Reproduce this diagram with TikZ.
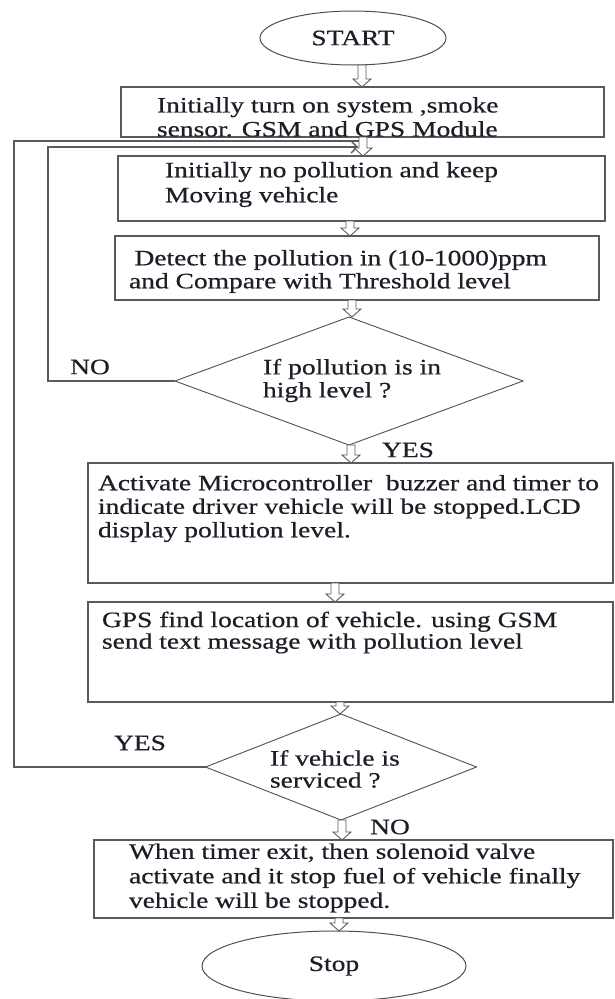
\documentclass[tikz,border=0pt]{standalone}
\usepackage{fontspec}
\setmainfont{Liberation Serif}[FakeStretch=1.25,FakeBold=0.6]
\usetikzlibrary{shapes.geometric,arrows.meta,calc}
\definecolor{linegray}{RGB}{90,90,90}
\definecolor{diagray}{RGB}{80,80,80}
\definecolor{txtcol}{RGB}{30,30,40}
\tikzset{
  boxnode/.style={draw=linegray,line width=1.4pt,rectangle,inner sep=0pt,outer sep=0pt},
  ovalnode/.style={draw=diagray,line width=1pt,ellipse,inner sep=0pt,outer sep=0pt,text=txtcol,font=\fontsize{22}{24}\selectfont},
  decnode/.style={draw=diagray,line width=0.9pt,diamond,inner sep=0pt,outer sep=0pt},
  txt/.style={anchor=west,align=left,inner sep=0pt,outer sep=0pt,text=txtcol},
  lbl/.style={inner sep=0pt,text=txtcol,font=\fontsize{22}{24}\selectfont},
  hollowarrow/.style={draw=linegray,line width=0.9pt,fill=white,line join=miter},
  loopline/.style={draw=linegray,line width=1.4pt},
}
\newcommand\hollowarr[3]{\draw[hollowarrow] let \p1=(#2), \p2=(#3) in
  (#1pt-4pt,\y1) -- (#1pt+4pt,\y1) -- (#1pt+4pt,\y2+8pt) -- (#1pt+9pt,\y2+8pt)
  -- (#1pt,\y2) -- (#1pt-9pt,\y2+8pt) -- (#1pt-4pt,\y2+8pt) -- cycle;}
\begin{document}
\begin{tikzpicture}[x=1pt,y=-1pt]
\useasboundingbox (0,0) rectangle (614,999);
% shapes
\node[ovalnode,minimum width=186pt,minimum height=54pt] (start) at (353,38) {START};
\node[boxnode,minimum width=483pt,minimum height=50pt] (box1) at (362.5,112) {};
\node[boxnode,minimum width=487pt,minimum height=65pt] (box2) at (361.5,188.5) {};
\node[boxnode,minimum width=484pt,minimum height=64pt] (box3) at (357,268) {};
\node[decnode,minimum width=348pt,minimum height=128pt] (d1) at (349,381) {};
\node[boxnode,minimum width=525pt,minimum height=120pt] (box4) at (350.5,523) {};
\node[boxnode,minimum width=525pt,minimum height=100pt] (box5) at (350.5,652) {};
\node[decnode,minimum width=271pt,minimum height=106pt] (d2) at (341,767) {};
\node[boxnode,minimum width=519pt,minimum height=78pt] (box6) at (353.5,879) {};
\node[ovalnode,minimum width=264pt,minimum height=70pt] (stop) at (334,966) {Stop};
% texts
\node[txt,font=\fontsize{22}{24}\selectfont] (t1) at (157,117) {Initially turn on system ,smoke\\sensor. GSM and GPS Module};
\node[txt,font=\fontsize{22}{25}\selectfont] (t2) at (165,184.5) {Initially no pollution and keep\\Moving vehicle};
\node[txt,font=\fontsize{22}{23}\selectfont] (t3) at (129,271.5) {\hspace*{0.25em}Detect the pollution in (10-1000)ppm\\and Compare with Threshold level};
\node[txt,font=\fontsize{22}{23}\selectfont] (dt1) at (263,380.5) {If pollution is in\\high level ?};
\node[txt,font=\fontsize{22}{23.5}\selectfont] (t4) at (98,508.5) {Activate Microcontroller\ \ buzzer and timer to\\indicate driver vehicle will be stopped.LCD\\display pollution level.};
\node[txt,font=\fontsize{22}{21.6}\selectfont] (t5) at (102,632.5) {GPS find location of vehicle. using GSM\\send text message with pollution level};
\node[txt,font=\fontsize{22}{22}\selectfont] (dt2) at (270,769) {If vehicle is\\serviced ?};
\node[txt,font=\fontsize{22}{24.5}\selectfont] (t6) at (129,878) {When timer exit, then solenoid valve\\activate and it stop fuel of vehicle finally\\vehicle will be stopped.};
% labels
\node[lbl] (lno1) at (90,367) {NO};
\node[lbl] (lyes1) at (408,450) {YES};
\node[lbl] (lyes2) at (140,743) {YES};
\node[lbl] (lno2) at (390,827) {NO};
% loop lines
\coordinate (loopA) at (359,141);
\coordinate (loopB) at (358,147);
\draw[loopline] (d2.west) -| (14,141) -- (loopA);
\draw[loopline,-{Straight Barb[length=6pt,width=12pt]}] (d1.west) -| (48,147) -- (loopB);
% hollow arrows
\hollowarr{362}{start.south}{box1.north}
\hollowarr{363}{box1.south}{box2.north}
\hollowarr{350}{box2.south}{box3.north}
\hollowarr{352}{box3.south}{d1.north}
\hollowarr{351}{d1.south}{box4.north}
\hollowarr{335}{box4.south}{box5.north}
\hollowarr{340}{box5.south}{d2.north}
\hollowarr{342}{d2.south}{box6.north}
\hollowarr{339}{box6.south}{stop.north}
\end{tikzpicture}
\end{document}
